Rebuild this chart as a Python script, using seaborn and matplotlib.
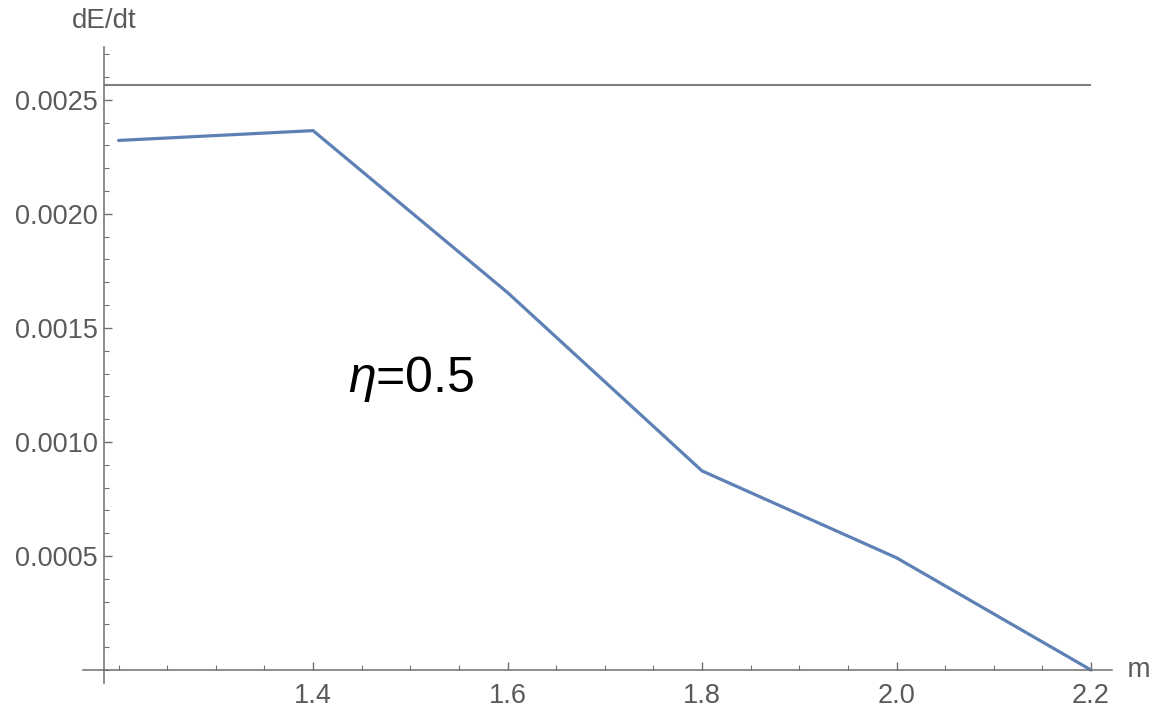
import matplotlib.pyplot as plt
import matplotlib.ticker as mticker
import seaborn as sns
import pandas as pd

# data
m_values = [1.2, 1.4, 1.6, 1.8, 2.0, 2.2]
dEdt_values = [0.002322, 0.002365, 0.001655, 0.000873, 0.000492, 0.0]
limit_value = 0.002567
x_ticks = [1.4, 1.6, 1.8, 2.0, 2.2]
y_ticks = [0.0005, 0.0010, 0.0015, 0.0020, 0.0025]
eta_label = r'$\eta$=0.5'

data = pd.DataFrame({'m': m_values, 'dE/dt': dEdt_values})

sns.set_style("white")
plt.rcParams['font.family'] = ['Liberation Sans', 'DejaVu Sans']
plt.rcParams['mathtext.fontset'] = 'custom'
plt.rcParams['mathtext.it'] = 'Liberation Sans:italic'

axis_col = '#6e6e6e'
text_col = '#5a5a5a'

fig = plt.figure(figsize=(11.62, 7.22), dpi=100)
ax = fig.add_axes([0.0714, 0.054, 0.957 - 0.0714, 0.935 - 0.054])

x_axis_pos = 1.185
ax.hlines(limit_value, x_axis_pos, 2.2, color='#808080', lw=1.5)
sns.lineplot(x='m', y='dE/dt', data=data, ax=ax, color='#5e81b5', lw=2.3)

ax.set_xlim(1.1634, 2.2216)
ax.set_ylim(-0.000057, 0.002732)

for s in ['top', 'right']:
    ax.spines[s].set_visible(False)
ax.spines['left'].set_position(('data', x_axis_pos))
ax.spines['bottom'].set_position(('data', 0))
for s in ['left', 'bottom']:
    ax.spines[s].set_color(axis_col)
    ax.spines[s].set_linewidth(1.1)

ax.set_xticks(x_ticks)
ax.set_xticklabels(['%.1f' % v for v in x_ticks])
ax.set_yticks(y_ticks)
ax.set_yticklabels(['%.4f' % v for v in y_ticks])
ax.xaxis.set_minor_locator(mticker.FixedLocator(
    [1.2, 1.25, 1.3, 1.35, 1.45, 1.5, 1.55, 1.65, 1.7, 1.75, 1.85, 1.9, 1.95, 2.05, 2.1, 2.15]))
ax.yaxis.set_minor_locator(mticker.MultipleLocator(0.0001))
ax.tick_params(which='both', direction='in', color=axis_col, labelcolor=text_col,
               labelsize=19.5, bottom=True, left=True, top=False, right=False)
ax.tick_params(which='major', length=6, width=1)
ax.tick_params(which='minor', length=3.5, width=0.8)
ax.tick_params(axis='x', pad=9)
ax.tick_params(axis='y', pad=4.3)

ax.set_xlabel('')
ax.set_ylabel('')
ax.text(x_axis_pos, 1.02, 'dE/dt', transform=ax.get_xaxis_transform(),
        ha='center', va='bottom', fontsize=20, color=text_col)
ax.text(1.0, 0, '  m', transform=ax.get_yaxis_transform(),
        ha='left', va='center', fontsize=20, color=text_col, clip_on=False)
ax.text(1.436, 0.00122, eta_label, fontsize=36, color='black', ha='left', va='baseline')

fig.savefig('out.png', dpi=100)
